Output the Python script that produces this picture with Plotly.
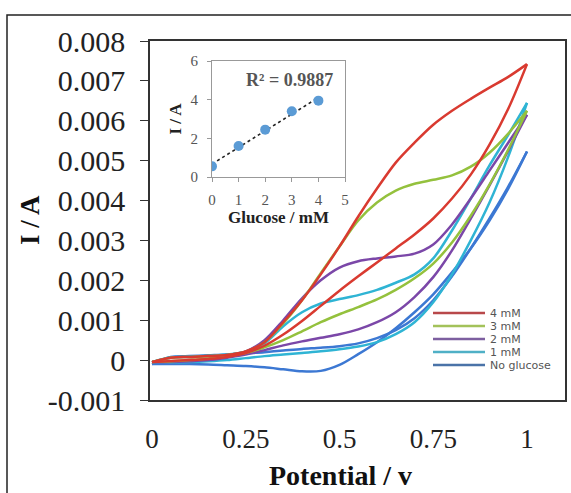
import numpy as np
import plotly.graph_objects as go

# ---------------- data ----------------
potential = [0.0, 0.05, 0.1, 0.15, 0.2, 0.25, 0.3, 0.35, 0.4, 0.45, 0.5,
             0.55, 0.6, 0.65, 0.7, 0.75, 0.8, 0.85, 0.9, 0.95, 1.0]

series_names = ["4 mM", "3 mM", "2 mM", "1 mM", "No glucose"]

# currents in mA (converted to A below); upper / lower branch of each CV loop
mM4_upper = [-0.05, 0.06, 0.08, 0.10, 0.13, 0.22, 0.45, 0.95, 1.50, 2.15, 2.85,
             3.60, 4.30, 4.95, 5.45, 5.90, 6.25, 6.55, 6.83, 7.10, 7.42]
mM4_lower = [-0.05, -0.02, 0.00, 0.03, 0.08, 0.18, 0.36, 0.64, 0.98, 1.36, 1.74,
             2.10, 2.45, 2.80, 3.15, 3.55, 4.05, 4.65, 5.40, 6.30, 7.42]
mM3_upper = [-0.05, 0.06, 0.08, 0.10, 0.13, 0.21, 0.45, 0.92, 1.50, 2.18, 2.85,
             3.50, 3.95, 4.25, 4.42, 4.52, 4.63, 4.85, 5.20, 5.68, 6.25]
mM3_lower = [-0.05, -0.03, 0.00, 0.04, 0.10, 0.18, 0.32, 0.50, 0.72, 0.95, 1.15,
             1.33, 1.52, 1.76, 2.05, 2.42, 2.95, 3.62, 4.40, 5.28, 6.25]
mM2_upper = [-0.05, 0.06, 0.08, 0.10, 0.13, 0.22, 0.50, 1.00, 1.55, 2.00, 2.32,
             2.48, 2.55, 2.60, 2.67, 2.90, 3.40, 4.05, 4.75, 5.45, 6.15]
mM2_lower = [-0.05, -0.05, -0.03, 0.00, 0.06, 0.14, 0.25, 0.37, 0.47, 0.56, 0.65,
             0.77, 0.95, 1.20, 1.58, 2.08, 2.75, 3.55, 4.38, 5.25, 6.15]
mM1_upper = [-0.05, 0.07, 0.09, 0.11, 0.14, 0.21, 0.42, 0.85, 1.20, 1.42, 1.53,
             1.63, 1.76, 1.94, 2.15, 2.55, 3.25, 4.05, 4.88, 5.65, 6.45]
mM1_lower = [-0.05, -0.06, -0.05, -0.03, 0.00, 0.05, 0.10, 0.14, 0.18, 0.22, 0.27,
             0.34, 0.45, 0.65, 0.95, 1.45, 2.15, 3.00, 3.95, 5.10, 6.45]
mM0_upper = [-0.10, 0.08, 0.10, 0.12, 0.14, 0.17, 0.20, 0.24, 0.28, 0.31, 0.35,
             0.42, 0.55, 0.75, 1.05, 1.50, 2.10, 2.80, 3.55, 4.35, 5.23]
mM0_lower = [-0.10, -0.10, -0.10, -0.11, -0.13, -0.15, -0.18, -0.23, -0.28, -0.27, -0.12,
             0.15, 0.45, 0.80, 1.20, 1.65, 2.20, 2.80, 3.50, 4.30, 5.23]

curve_colors = ["#D93A30", "#94C13D", "#7B47A8", "#2FB4D4", "#3C78D3"]
legend_colors = ["#B8484A", "#A3C25A", "#7D5FA0", "#4FB0C6", "#4A73A8"]

# inset
glucose_mM = [0, 1, 2, 3, 4]
inset_current = [0.55, 1.6, 2.45, 3.4, 3.95]
r2_label = "R² = 0.9887"

y_ticks = [-0.001, 0, 0.001, 0.002, 0.003, 0.004, 0.005, 0.006, 0.007, 0.008]
y_ticktext = ["-0.001", "0", "0.001", "0.002", "0.003", "0.004", "0.005", "0.006", "0.007", "0.008"]
x_ticks = [0, 0.25, 0.5, 0.75, 1]
x_ticktext = ["0", "0.25", "0.5", "0.75", "1"]
x_title = "Potential / v"
y_title = "I / A"

# ---------------- figure ----------------
W, H = 571, 493
L, R, T, B = 150, 6, 41, 93
pw, ph = W - L - R, H - T - B


def px_x(px):
    return (px - L) / pw


def px_y(py):
    return (H - B - py) / ph


SERIF = "Liberation Serif, Times New Roman, serif"
fig = go.Figure()

branches = [(mM4_upper, mM4_lower), (mM3_upper, mM3_lower), (mM2_upper, mM2_lower),
            (mM1_upper, mM1_lower), (mM0_upper, mM0_lower)]
# draw in reverse order so 4 mM is on top
for i in reversed(range(len(series_names))):
    up, lo = branches[i]
    for br in (up, lo):
        fig.add_trace(go.Scatter(
            x=potential, y=[v / 1000 for v in br], mode="lines",
            line=dict(color=curve_colors[i], width=2.5, shape="spline", smoothing=0.9),
            name=series_names[i], showlegend=False, hoverinfo="skip"))

# inset trend line
coef = np.polyfit(glucose_mM, inset_current, 1)
tx = [glucose_mM[0], glucose_mM[-1]]
fig.add_trace(go.Scatter(x=tx, y=list(np.polyval(coef, tx)), mode="lines",
                         line=dict(color="#222", width=1.6, dash="dot"),
                         xaxis="x2", yaxis="y2", showlegend=False))
fig.add_trace(go.Scatter(x=glucose_mM, y=inset_current, mode="markers",
                         marker=dict(color="#5B9BD5", size=10),
                         xaxis="x2", yaxis="y2", showlegend=False))

fig.update_layout(
    width=W, height=H, margin=dict(l=L, r=R, t=T, b=B, autoexpand=False),
    paper_bgcolor="white", plot_bgcolor="white", showlegend=False,
    xaxis=dict(range=[-2 / 375, (pw - 2) / 375], tickvals=x_ticks, ticktext=x_ticktext,
               ticks="", showgrid=False, zeroline=False, showline=True, mirror=True,
               linecolor="#333", linewidth=1.5, ticklabelstandoff=14, automargin=False,
               tickfont=dict(family=SERIF, size=27, color="#222")),
    yaxis=dict(range=[-0.001, 0.008], tickvals=y_ticks, ticktext=y_ticktext,
               ticks="outside", ticklen=8, tickcolor="#333", tickwidth=1.3,
               showgrid=False, zeroline=False, showline=True, mirror=True,
               linecolor="#333", linewidth=1.5, ticklabelstandoff=9, automargin=False,
               tickfont=dict(family=SERIF, size=30, color="#222")),
    xaxis2=dict(domain=[px_x(212), px_x(345)], anchor="y2", range=[0, 5],
                tickvals=[0, 1, 2, 3, 4, 5], ticks="outside", ticklen=4,
                tickcolor="#999", showgrid=False, zeroline=False, showline=True,
                mirror=True, linecolor="#999", linewidth=1, ticklabelstandoff=5,
                tickfont=dict(family=SERIF, size=15, color="#555"),
                title=dict(text="<b>Glucose / mM</b>", standoff=1,
                           font=dict(family=SERIF, size=17, color="#222"))),
    yaxis2=dict(domain=[px_y(177), px_y(61)], anchor="x2", range=[0, 6],
                tickvals=[0, 2, 4, 6], ticks="outside", ticklen=4,
                tickcolor="#999", showgrid=False, zeroline=False, showline=True,
                mirror=True, linecolor="#999", linewidth=1, ticklabelstandoff=6,
                tickfont=dict(family=SERIF, size=15, color="#555"),
                title=dict(text="<b>I / A</b>", standoff=4,
                           font=dict(family=SERIF, size=17, color="#222"))),
)

shapes = [dict(type="rect", xref="paper", yref="paper",
               x0=px_x(7), x1=px_x(590), y0=px_y(520), y1=px_y(15),
               line=dict(color="#222", width=1.5), layer="below")]
annotations = [
    dict(text="<b>" + r2_label + "</b>", x=2.92, y=5.02, xref="x2", yref="y2",
         xanchor="center", yanchor="middle", showarrow=False,
         font=dict(family=SERIF, size=18, color="#555")),
    dict(text="<b>" + x_title + "</b>", xref="paper", yref="paper",
         x=px_x(340), y=px_y(475), xanchor="center", yanchor="middle", showarrow=False,
         font=dict(family=SERIF, size=28, color="#111")),
    dict(text="<b>" + y_title + "</b>", xref="paper", yref="paper", textangle=-90,
         x=px_x(30), y=px_y(220), xanchor="center", yanchor="middle", showarrow=False,
         font=dict(family=SERIF, size=27, color="#111")),
]
legend_py = [313, 326, 339, 352, 365]
for name, col, py in zip(series_names, legend_colors, legend_py):
    shapes.append(dict(type="line", xref="paper", yref="paper",
                       x0=px_x(433), x1=px_x(485), y0=px_y(py), y1=px_y(py),
                       line=dict(color=col, width=2.5)))
    annotations.append(dict(text=name, xref="paper", yref="paper",
                            x=px_x(489), y=px_y(py), xanchor="left", yanchor="middle",
                            showarrow=False, height=12, borderpad=0,
                            font=dict(family="DejaVu Sans, sans-serif", size=11, color="#555")))
fig.update_layout(shapes=shapes, annotations=annotations)

fig.write_html("out.html")
